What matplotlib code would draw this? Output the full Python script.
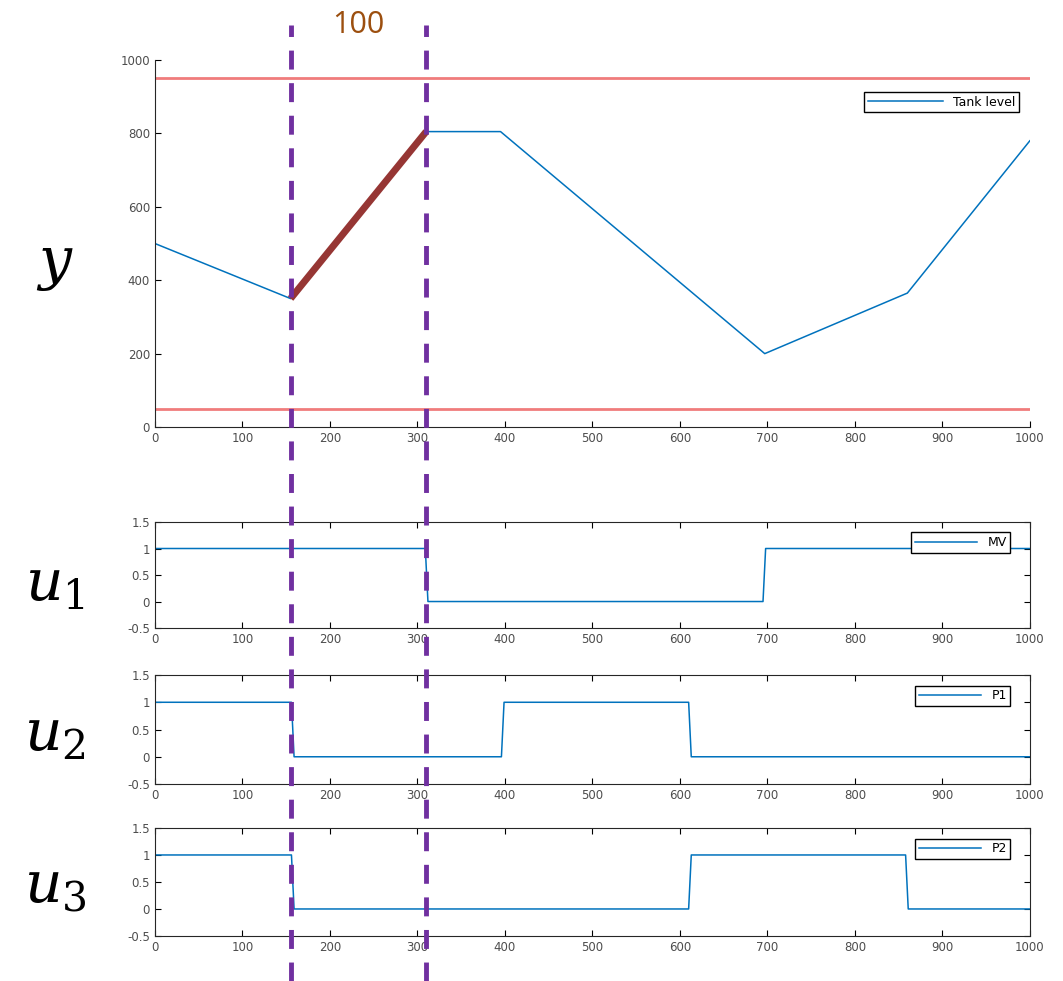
import numpy as np
import matplotlib
matplotlib.use('Agg')
import matplotlib.pyplot as plt
from matplotlib.lines import Line2D
from matplotlib.transforms import blended_transform_factory

plt.rcParams['mathtext.fontset'] = 'dejavuserif'

# Datos
t_nivel = [0, 155, 310, 395, 697, 860, 1000]
nivel = [500, 350, 805, 805, 200, 365, 780]
lim_sup = 950
lim_inf = 50
tramo_t = [155, 310]
tramo_y = [350, 805]

t_mv = [0, 309, 312, 695, 698, 1000]
mv = [1, 1, 0, 0, 1, 1]
t_p1 = [0, 156, 159, 396, 399, 610, 613, 1000]
p1 = [1, 1, 0, 0, 1, 1, 0, 0]
t_p2 = [0, 156, 159, 610, 613, 858, 861, 1000]
p2 = [1, 1, 0, 0, 1, 1, 0, 0]

cortes = [155, 310]
etiqueta_tramo = '100'

azul = '#0072BD'
gris = '#4d4d4d'

fig = plt.figure(figsize=(10.63, 9.81), dpi=100)

def estilo(ax, caja=True):
    ax.tick_params(direction='in', labelsize=8.5, labelcolor=gris, length=4,
                   top=caja, right=caja, width=0.8)
    for s in ax.spines.values():
        s.set_color('#262626')
        s.set_linewidth(0.8)
    if not caja:
        ax.spines['top'].set_visible(False)
        ax.spines['right'].set_visible(False)
    ax.set_xlim(0, 1000)
    ax.set_xticks(np.arange(0, 1001, 100))

# Nivel del tanque
ax0 = fig.add_axes([0.1458, 0.5647, 0.823, 0.3741])
ax0.plot(t_nivel, nivel, color=azul, lw=1.1, label='Tank level')
ax0.axhline(lim_sup, color='#f07c7c', lw=2)
ax0.axhline(lim_inf, color='#f07c7c', lw=2)
ax0.plot(tramo_t, tramo_y, color='#963634', lw=5, solid_capstyle='butt')
ax0.set_ylim(0, 1000)
ax0.set_yticks(np.arange(0, 1001, 200))
estilo(ax0, caja=False)
ax0.legend(loc='upper right', bbox_to_anchor=(0.995, 0.93), fontsize=9,
           fancybox=False, edgecolor='black', framealpha=1, handlelength=6,
           borderpad=0.3)

ejes = [
    ([0.1458, 0.3598, 0.823, 0.1081], t_mv, mv, 'MV'),
    ([0.1458, 0.2008, 0.823, 0.1111], t_p1, p1, 'P1'),
    ([0.1458, 0.0459, 0.823, 0.1101], t_p2, p2, 'P2'),
]
axs = [ax0]
for pos, t, u, nombre in ejes:
    ax = fig.add_axes(pos)
    ax.plot(t, u, color=azul, lw=1.1, label=nombre)
    ax.set_ylim(-0.5, 1.5)
    ax.set_yticks([-0.5, 0, 0.5, 1, 1.5])
    ax.set_yticklabels(['-0.5', '0', '0.5', '1', '1.5'])
    estilo(ax)
    ax.legend(loc='upper right', bbox_to_anchor=(0.985, 0.96), fontsize=9,
              fancybox=False, edgecolor='black', framealpha=1,
              handlelength=5, borderpad=0.3)
    axs.append(ax)

# Líneas verticales discontinuas que cruzan toda la figura
tr = blended_transform_factory(ax0.transData, fig.transFigure)
for c in cortes:
    fig.add_artist(Line2D([c, c], [0.0, 0.975], transform=tr, color='#7030A0',
                          lw=3.5, dashes=(3.9, 2.8)))
fig.text(np.mean(cortes), 0.975, etiqueta_tramo, transform=tr, ha='center',
         va='center', fontsize=22, color='#9C4F0F', family='Open Sans')

# Etiquetas de la izquierda
fig.text(0.052, 0.73, r'$y$', fontsize=42, ha='center', va='center')
fig.text(0.052, 0.405, r'$u_1$', fontsize=42, ha='center', va='center')
fig.text(0.052, 0.252, r'$u_2$', fontsize=42, ha='center', va='center')
fig.text(0.052, 0.097, r'$u_3$', fontsize=42, ha='center', va='center')

fig.savefig('out.png', dpi=100)
